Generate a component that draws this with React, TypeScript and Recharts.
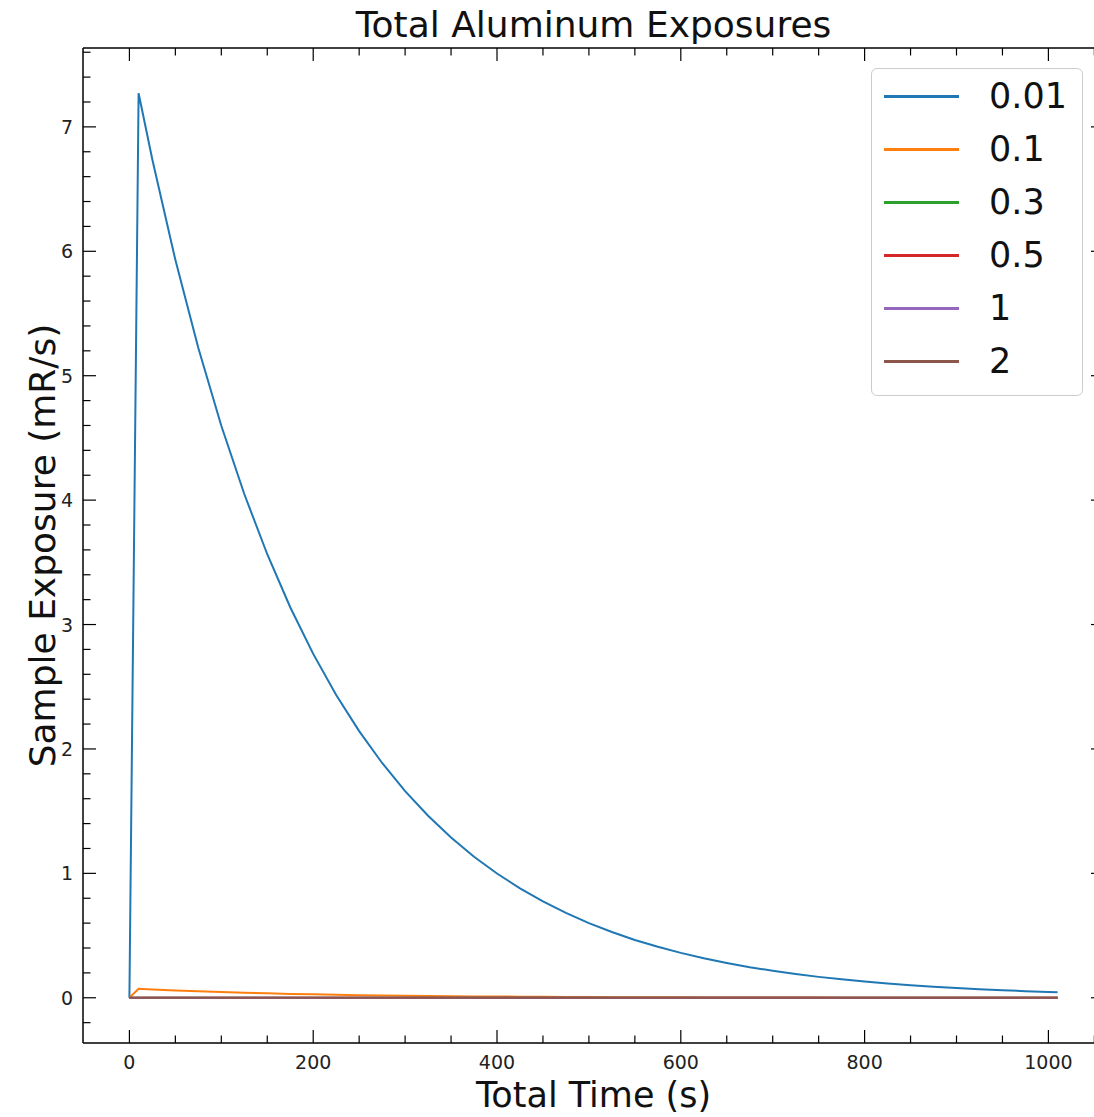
import { LineChart, Line, XAxis, YAxis, Legend, Label } from "recharts";

const times = [0, 10, 25, 50, 75, 100, 125, 150, 175, 200, 225, 250, 275, 300, 325, 350, 375, 400, 425, 450, 475, 500, 525, 550, 575, 600, 625, 650, 675, 700, 725, 750, 775, 800, 825, 850, 875, 900, 925, 950, 975, 1000, 1010];
const al001 = [0, 7.27, 6.736, 5.931, 5.222, 4.598, 4.049, 3.565, 3.139, 2.764, 2.434, 2.143, 1.887, 1.661, 1.463, 1.288, 1.134, 0.999, 0.879, 0.774, 0.682, 0.6, 0.529, 0.465, 0.41, 0.361, 0.318, 0.28, 0.246, 0.217, 0.191, 0.168, 0.148, 0.13, 0.115, 0.101, 0.089, 0.078, 0.069, 0.061, 0.053, 0.047, 0.045];
const al01 = [0, 0.073, 0.067, 0.059, 0.052, 0.046, 0.04, 0.036, 0.031, 0.028, 0.024, 0.021, 0.019, 0.017, 0.015, 0.013, 0.011, 0.01, 0.009, 0.008, 0.007, 0.006, 0.005, 0.005, 0.004, 0.004, 0.003, 0.003, 0.002, 0.002, 0.002, 0.002, 0.001, 0.001, 0.001, 0.001, 0.001, 0.001, 0.001, 0.001, 0, 0, 0];
const al03 = [0, 0.0002, 0.0002, 0.0002, 0.0001, 0.0001, 0.0001, 0.0001, 0.0001, 0.0001, 0, 0, 0, 0, 0, 0, 0, 0, 0, 0, 0, 0, 0, 0, 0, 0, 0, 0, 0, 0, 0, 0, 0, 0, 0, 0, 0, 0, 0, 0, 0, 0, 0];
const al05 = [0, 0, 0, 0, 0, 0, 0, 0, 0, 0, 0, 0, 0, 0, 0, 0, 0, 0, 0, 0, 0, 0, 0, 0, 0, 0, 0, 0, 0, 0, 0, 0, 0, 0, 0, 0, 0, 0, 0, 0, 0, 0, 0];
const al1 = [0, 0, 0, 0, 0, 0, 0, 0, 0, 0, 0, 0, 0, 0, 0, 0, 0, 0, 0, 0, 0, 0, 0, 0, 0, 0, 0, 0, 0, 0, 0, 0, 0, 0, 0, 0, 0, 0, 0, 0, 0, 0, 0];
const al2 = [0, 0, 0, 0, 0, 0, 0, 0, 0, 0, 0, 0, 0, 0, 0, 0, 0, 0, 0, 0, 0, 0, 0, 0, 0, 0, 0, 0, 0, 0, 0, 0, 0, 0, 0, 0, 0, 0, 0, 0, 0, 0, 0];

const seriesNames = ["0.01", "0.1", "0.3", "0.5", "1", "2"];
const seriesValues = [al001, al01, al03, al05, al1, al2];
const colors = ["#1f77b4", "#ff7f0e", "#2ca02c", "#d62728", "#9467bd", "#8c564b"];

const xTicks = [0, 50, 100, 150, 200, 250, 300, 350, 400, 450, 500, 550, 600, 650, 700, 750, 800, 850, 900, 950, 1000, 1050];
const yTicks = [-0.2, 0, 0.2, 0.4, 0.6, 0.8, 1, 1.2, 1.4, 1.6, 1.8, 2, 2.2, 2.4, 2.6, 2.8, 3, 3.2, 3.4, 3.6, 3.8, 4, 4.2, 4.4, 4.6, 4.8, 5, 5.2, 5.4, 5.6, 5.8, 6, 6.2, 6.4, 6.6, 6.8, 7, 7.2, 7.4, 7.6];

const data = times.map((t, i) => {
  const row: any = { time: t };
  seriesNames.forEach((name, s) => {
    row[name] = seriesValues[s][i];
  });
  return row;
});

const FONT = "'DejaVu Sans', sans-serif";
const MAJOR = 13;
const MINOR = 7.5;
const isMajorX = (v: number) => v % 200 === 0;
const isMajorY = (v: number) => Math.abs(v - Math.round(v)) < 1e-9;

const BottomTick = ({ x, y, payload }: any) => {
  const major = isMajorX(payload.value);
  return (
    <g>
      <line x1={x} x2={x} y1={y} y2={y - (major ? MAJOR : MINOR)} stroke="#000" strokeWidth={1.2} />
      {major && (
        <text x={x} y={y + 26} textAnchor="middle" fontSize={19} fontFamily={FONT} fill="#222">
          {payload.value}
        </text>
      )}
    </g>
  );
};

const TopTick = ({ x, y, payload }: any) => {
  const major = isMajorX(payload.value);
  return <line x1={x} x2={x} y1={y} y2={y + (major ? MAJOR : MINOR)} stroke="#000" strokeWidth={1.2} />;
};

const LeftTick = ({ x, y, payload }: any) => {
  const major = isMajorY(payload.value);
  return (
    <g>
      <line x1={x} x2={x + (major ? MAJOR : MINOR)} y1={y} y2={y} stroke="#000" strokeWidth={1.2} />
      {major && (
        <text x={x - 10} y={y} textAnchor="end" dominantBaseline="central" fontSize={19} fontFamily={FONT} fill="#222">
          {Math.round(payload.value)}
        </text>
      )}
    </g>
  );
};

const RightTick = ({ x, y, payload }: any) => {
  const major = isMajorY(payload.value);
  return <line x1={x} x2={x - (major ? MAJOR : MINOR)} y1={y} y2={y} stroke="#000" strokeWidth={1.2} />;
};

const LegendBox = ({ payload }: any) => (
  <div
    style={{
      position: "relative",
      width: 212,
      height: 328,
      boxSizing: "border-box",
      background: "rgba(255,255,255,0.8)",
      border: "1px solid #cccccc",
      borderRadius: 6,
      fontFamily: FONT,
    }}
  >
    {(payload || []).map((entry: any, i: number) => (
      <div key={entry.value} style={{ position: "absolute", left: 0, top: 27 + i * 53 - 20, height: 40, width: 212 }}>
        <div style={{ position: "absolute", left: 12, top: 19, width: 75, height: 2.5, background: entry.color }} />
        <span style={{ position: "absolute", left: 117, top: 0, lineHeight: "40px", fontSize: 35, color: "#111" }}>
          {entry.value}
        </span>
      </div>
    ))}
  </div>
);

export default function App() {
  return (
    <div style={{ position: "absolute", left: 0, top: 0, width: 1094, height: 1117, overflow: "hidden", background: "#fff" }}>
      <LineChart width={1105} height={1117} data={data} margin={{ top: 47, right: 0, bottom: 73, left: 82 }}>
        <XAxis
          dataKey="time"
          type="number"
          domain={[-50.5, 1060.5]}
          allowDataOverflow
          ticks={xTicks}
          interval={0}
          height={1}
          tickSize={0}
          tickMargin={0}
          tickLine={false}
          tick={<BottomTick />}
          axisLine={{ stroke: "#000", strokeWidth: 1.5 }}
        >
          <Label
            content={({ viewBox }: any) => (
              <text x={viewBox.x + viewBox.width / 2} y={1107} textAnchor="middle" fontSize={35} fontFamily={FONT} fill="#111">
                Total Time (s)
              </text>
            )}
          />
        </XAxis>
        <XAxis
          xAxisId="top"
          orientation="top"
          dataKey="time"
          type="number"
          domain={[-50.5, 1060.5]}
          allowDataOverflow
          ticks={xTicks}
          interval={0}
          height={1}
          tickSize={0}
          tickMargin={0}
          tickLine={false}
          tick={<TopTick />}
          axisLine={{ stroke: "#000", strokeWidth: 1.5 }}
        >
          <Label
            content={({ viewBox }: any) => (
              <text x={viewBox.x + viewBox.width / 2} y={37} textAnchor="middle" fontSize={36} fontFamily={FONT} fill="#111">
                Total Aluminum Exposures
              </text>
            )}
          />
        </XAxis>
        <YAxis
          type="number"
          domain={[-0.3635, 7.634]}
          allowDataOverflow
          ticks={yTicks}
          interval={0}
          width={1}
          tickSize={0}
          tickMargin={0}
          tickLine={false}
          tick={<LeftTick />}
          axisLine={{ stroke: "#000", strokeWidth: 1.5 }}
        >
          <Label
            content={({ viewBox }: any) => (
              <text
                x={42}
                y={viewBox.y + viewBox.height / 2}
                transform={`rotate(-90, 42, ${viewBox.y + viewBox.height / 2})`}
                textAnchor="middle"
                dominantBaseline="central"
                fontSize={36}
                fontFamily={FONT}
                fill="#111"
              >
                Sample Exposure (mR/s)
              </text>
            )}
          />
        </YAxis>
        <YAxis
          yAxisId="right"
          orientation="right"
          type="number"
          domain={[-0.3635, 7.634]}
          allowDataOverflow
          ticks={yTicks}
          interval={0}
          width={1}
          tickSize={0}
          tickMargin={0}
          tickLine={false}
          tick={<RightTick />}
          axisLine={{ stroke: "#000", strokeWidth: 1.5 }}
        />
        <Legend
          layout="vertical"
          align="center"
          verticalAlign="middle"
          wrapperStyle={{ top: 68, left: 871, width: 212, height: 328 }}
          content={<LegendBox />}
        />
        {seriesNames.map((name, s) => (
          <Line
            key={name}
            type="linear"
            dataKey={name}
            name={name}
            stroke={colors[s]}
            strokeWidth={2}
            dot={false}
            activeDot={false}
            isAnimationActive={false}
          />
        ))}
      </LineChart>
    </div>
  );
}
